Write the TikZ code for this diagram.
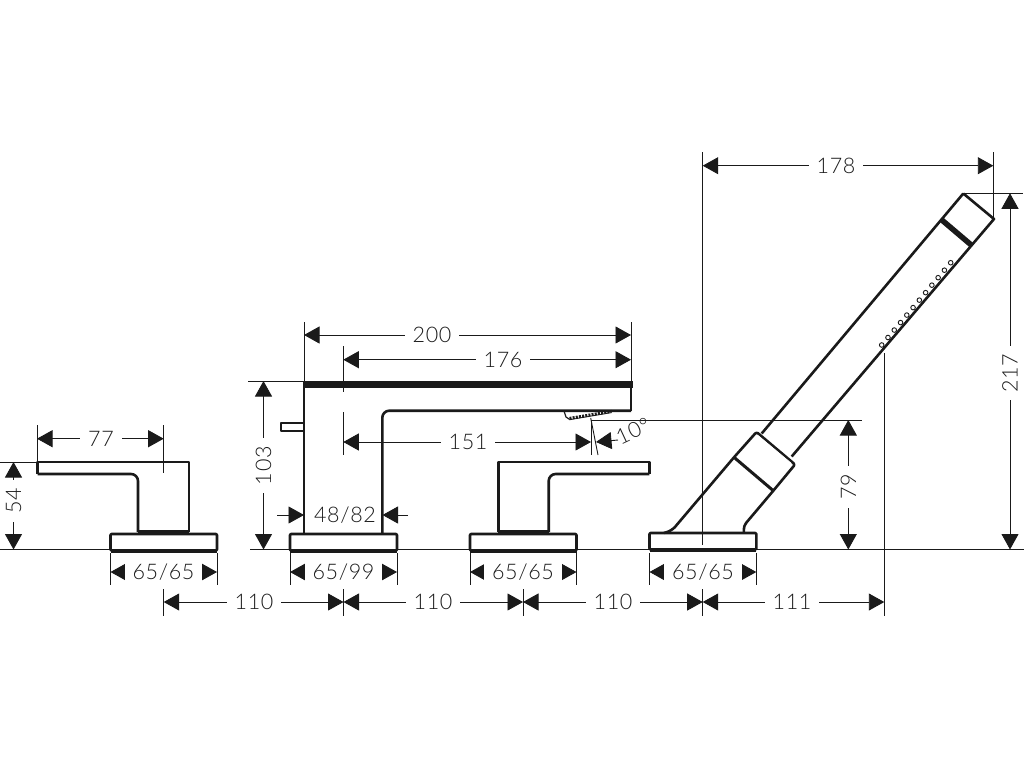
\documentclass[tikz,border=0pt]{standalone}
\usepackage{fontspec}
\setmainfont{Lato}[UprightFont=* Light,LetterSpace=3]
\usetikzlibrary{arrows.meta}
\definecolor{ink}{HTML}{1A1A1A}
\newcommand{\dimfont}{\fontsize{21.5}{23}\selectfont}
\tikzset{
  outline/.style={draw=ink,line width=2.6pt,line join=round},
  heavy/.style={draw=ink,line width=4pt,line cap=butt},
  thinl/.style={draw=ink,line width=0.9pt},
  dimline/.style={draw=ink,line width=0.9pt,{Triangle[length=15.5pt,width=17pt]}-{Triangle[length=15.5pt,width=17pt]}},
  dimone/.style={draw=ink,line width=0.9pt,-{Triangle[length=15.5pt,width=17pt]}},
  dimtext/.style={fill=white,text=ink,font=\dimfont,inner xsep=8pt,inner ysep=1pt},
  dot/.style={draw=ink,line width=0.9pt,fill=white,circle,minimum size=4.6pt,inner sep=0pt}
}
% name, x1, x2, y, text x, text
\newcommand{\hdimn}[6]{%
  \coordinate (#1a) at (#2,#4); \coordinate (#1b) at (#3,#4);
  \draw[dimline] (#1a) -- (#1b);
  \node[dimtext] (#1t) at (#5,#4) {#6};}
% name, x, y1, y2, text y, text
\newcommand{\vdimn}[6]{%
  \coordinate (#1a) at (#2,#3); \coordinate (#1b) at (#2,#4);
  \draw[dimline] (#1a) -- (#1b);
  \node[dimtext,rotate=90] (#1t) at (#2,#5) {#6};}
% name, x1, x2, y (tap base)
\newcommand{\tapbase}[4]{%
  \draw[outline,rounded corners=1pt] (#2,#4) rectangle (#3,#4+16.5);
  \draw[heavy] (#2,#4+16.7) -- (#3,#4+16.7);}
\begin{document}
\begin{tikzpicture}[x=1pt,y=-1pt]
\useasboundingbox[fill=white] (0,0) rectangle (1024,768);
% ground line
\draw[thinl] (0,549.5) -- (110,549.5);
\draw[thinl] (250,549.5) -- (290,549.5);
\draw[thinl] (397,549.5) -- (470,549.5);
\draw[thinl] (577,549.5) -- (650,549.5);
\draw[thinl] (756,549.5) -- (1024,549.5);
% extension lines
\draw[thinl] (37,425) -- (37,462);
\draw[thinl] (163.7,425) -- (163.7,473);
\draw[thinl] (0,462) -- (37,462);
\draw[thinl] (110.5,553) -- (110.5,585);
\draw[thinl] (217,553) -- (217,585);
\draw[thinl] (163.7,589) -- (163.7,616);
\draw[thinl] (343.5,589) -- (343.5,616);
\draw[thinl] (523,589) -- (523,616);
\draw[thinl] (702.7,589) -- (702.7,616);
\draw[thinl] (884.3,353) -- (884.3,616);
\draw[thinl] (248,381) -- (303,381);
\draw[thinl] (290,553) -- (290,585);
\draw[thinl] (397,553) -- (397,585);
\draw[thinl] (470,553) -- (470,585);
\draw[thinl] (576.5,553) -- (576.5,585);
\draw[thinl] (649.5,553) -- (649.5,585);
\draw[thinl] (756.3,553) -- (756.3,585);
\draw[thinl] (304,322) -- (304,381);
\draw[thinl] (631,322) -- (631,381);
\draw[thinl] (343.3,346) -- (343.3,392);
\draw[thinl] (343.3,412) -- (343.3,455);
\draw[thinl] (591,420) -- (591,455);
\draw[thinl] (590.7,418) -- (598,455);
\draw[thinl] (591,420) -- (862,420);
\draw[thinl] (702.7,152) -- (702.7,545);
\draw[thinl] (993.3,152) -- (993.3,218);
\draw[thinl] (963,193.3) -- (1023,193.3);
% left handle
\draw[outline,rounded corners=7pt] (138,532) -- (138,474) -- (37.5,474);
\draw[outline] (37.5,474) -- (37.5,462) -- (189,462) -- (189,532);
\draw[heavy] (138,531.5) -- (189,531.5);
\tapbase{b1}{110.5}{217}{534}
% centre spout
\draw[outline] (304,381) -- (304,533);
\draw[outline,rounded corners=7pt] (382.3,533) -- (382.3,410.7) -- (631,410.7);
\draw[outline] (631,410.7) -- (631,384);
\draw[draw=ink,fill=ink,line width=1pt] (303.5,381) rectangle (632,387.5);
\draw[outline] (303,423) -- (281,423) -- (281,431) -- (303,431);
\tapbase{b2}{290}{397}{534}
% spray head
\draw[thinl,line width=1.2pt] (564,411) -- (566,417) -- (569.5,419.3);
\draw[draw=ink,line width=2.8pt,dash pattern=on 2pt off 1.2pt] (569.5,418.3) -- (611.5,411.3);
\draw[draw=ink,line width=0.9pt] (569,419.8) -- (611.5,412.6);
% right handle
\draw[outline,rounded corners=7pt] (548.7,532) -- (548.7,474) -- (649.3,474);
\draw[outline] (649.3,474) -- (649.3,462) -- (498.3,462) -- (498.3,532);
\draw[heavy] (498.3,531.5) -- (548.7,531.5);
\tapbase{b3}{470}{576.5}{534}
% hand shower
\tapbase{b4}{649.5}{756.3}{533}
\draw[outline] (963.3,193.5) -- (761.7,433.5);
\draw[outline] (963.3,193.5) -- (994,219) -- (791.7,456.5);
\draw[draw=ink,line width=5.5pt] (941,219.3) -- (971,244.8);
\draw[outline,rounded corners=2pt] (734,457.3) -- (756.5,432) -- (795,464.5) -- (773.3,490.7);
\draw[draw=white,line width=0.6pt] (758,435.5) -- (791,463);
\draw[draw=ink,line width=3pt] (734,457.3) -- (773.3,490.7);
\draw[outline,rounded corners=5pt] (734,457.3) -- (672,530.5) -- (664,533);
\draw[outline,rounded corners=4pt] (773.3,490.7) -- (743.5,526) -- (744,533);
\foreach \i in {0,...,11}{
  \node[dot] (d\i) at ({881.7+\i*6.27},{345-\i*7.48}) {};
}
% dimensions
\hdimn{da}{37}{163.7}{438.7}{101}{77}
\vdimn{db}{13.5}{462}{549.5}{500.7}{54}
\hdimn{dc}{110.5}{217}{572}{163.5}{65/65}
\hdimn{dd}{290}{397}{572}{343.5}{65/99}
\hdimn{de}{470}{576.5}{572}{523}{65/65}
\hdimn{df}{649.5}{756.3}{572}{703}{65/65}
\hdimn{dg}{163.7}{343.5}{602}{254}{110}
\hdimn{dh}{343.5}{523}{602}{433}{110}
\hdimn{di}{523}{702.7}{602}{613}{110}
\hdimn{dj}{702.7}{884.3}{602}{792}{111}
\vdimn{dk}{263.5}{381}{549.5}{465.7}{103}
\hdimn{dl}{304}{631}{335}{432}{200}
\hdimn{dm}{343.3}{631}{359.7}{503}{176}
\hdimn{dn}{343.3}{591}{442}{468}{151}
\hdimn{do}{702.7}{993.3}{165.7}{836}{178}
\vdimn{dp}{1010}{193.3}{549.5}{373}{217}
\vdimn{dq}{848.3}{420}{549.5}{486.7}{79}
% 48/82
\coordinate (dr1) at (277,515); \coordinate (dr2) at (304,515);
\coordinate (dr3) at (408,515); \coordinate (dr4) at (382.5,515);
\draw[dimone] (dr1) -- (dr2);
\draw[dimone] (dr3) -- (dr4);
\node[text=ink,font=\dimfont,inner sep=0pt] (drt) at (345,515) {48/82};
% 10 deg
\coordinate (ds1) at (618,440); \coordinate (ds2) at (596,442);
\draw[dimone] (ds1) -- (ds2);
\node[text=ink,font=\dimfont,rotate=25,inner sep=0pt] (dst) at (633,431) {10°};
\end{tikzpicture}
\end{document}
